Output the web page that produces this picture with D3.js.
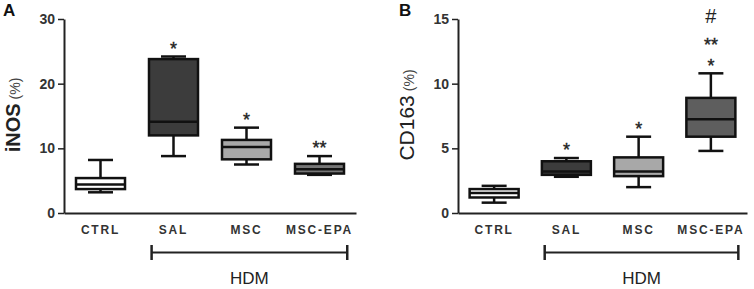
<!DOCTYPE html>
<html>
<head>
<meta charset="utf-8">
<script src="https://cdn.jsdelivr.net/npm/d3@7"></script>
<style>
  body { margin: 0; background: #fff; }
  text { font-family: "Liberation Sans", Arial, sans-serif; }
</style>
</head>
<body>
<div id="chart"></div>
<script>
// groups on the x axis
const groups = ["CTRL", "SAL", "MSC", "MSC-EPA"];
const hdmGroups = ["SAL", "MSC", "MSC-EPA"];

// panel A : iNOS (%)
const inosMin = [3.2, 8.8, 7.5, 5.9];
const inosQ1  = [3.7, 12.0, 8.3, 6.1];
const inosMed = [4.4, 14.1, 10.2, 6.75];
const inosQ3  = [5.4, 23.8, 11.3, 7.6];
const inosMax = [8.2, 24.2, 13.2, 8.8];
const inosMarks = [[], ["*"], ["*"], ["**"]];
const inosTicks = [0, 10, 20, 30];

// panel B : CD163 (%)
const cdMin = [0.8, 2.8, 2.0, 4.8];
const cdQ1  = [1.2, 2.95, 2.85, 5.9];
const cdMed = [1.55, 3.2, 3.2, 7.25];
const cdQ3  = [1.85, 4.0, 4.3, 8.9];
const cdMax = [2.1, 4.25, 5.9, 10.8];
const cdMarks = [[], ["*"], ["*"], ["*", "**", "#"]];
const cdTicks = [0, 5, 10, 15];

const W = 754, H = 289;
const svg = d3.select("#chart").append("svg")
  .attr("width", W).attr("height", H);

function drawPanel(opt) {
  const g = svg.append("g");
  const x = d3.scaleBand().domain(groups).range([opt.x0, opt.x1]);
  const y = d3.scaleLinear().domain([0, opt.ymax]).range([213, 19]);
  const bw = x.bandwidth();
  const boxW = 49, capW = 25;

  // y axis
  const ya = g.append("g").attr("transform", `translate(${opt.x0},0)`)
    .call(d3.axisLeft(y).tickValues(opt.ticks).tickSize(6).tickSizeOuter(0).tickPadding(3));
  ya.select(".domain").attr("stroke", "#222").attr("stroke-width", 2);
  ya.selectAll(".tick line").attr("stroke", "#222").attr("stroke-width", 1.5);
  ya.selectAll(".tick text").attr("font-size", 14).attr("font-weight", "bold")
    .attr("fill", "#333").style("font-family", "Liberation Sans, Arial, sans-serif");

  // x axis
  const xa = g.append("g").attr("transform", `translate(0,${y(0)})`)
    .call(d3.axisBottom(x).tickSize(0).tickPadding(12));
  xa.select(".domain").attr("stroke", "#222").attr("stroke-width", 2);
  xa.selectAll(".tick text").attr("font-size", 12).attr("font-weight", "bold")
    .attr("fill", "#333").attr("letter-spacing", 1.8)
    .style("font-family", "Liberation Sans, Arial, sans-serif");

  const rows = groups.map((k, i) => ({
    k, min: opt.min[i], q1: opt.q1[i], med: opt.med[i], q3: opt.q3[i], max: opt.max[i],
    fill: opt.fills[i], marks: opt.marks[i]
  }));

  const box = g.selectAll(".box").data(rows).join("g")
    .attr("transform", d => `translate(${x(d.k) + bw / 2},0)`);

  // whiskers
  box.append("line").attr("x1", 0).attr("x2", 0)
    .attr("y1", d => y(d.max)).attr("y2", d => y(d.min))
    .attr("stroke", "#111").attr("stroke-width", 2.5);
  box.append("line").attr("x1", -capW / 2).attr("x2", capW / 2)
    .attr("y1", d => y(d.max)).attr("y2", d => y(d.max))
    .attr("stroke", "#111").attr("stroke-width", 2.5);
  box.append("line").attr("x1", -capW / 2).attr("x2", capW / 2)
    .attr("y1", d => y(d.min)).attr("y2", d => y(d.min))
    .attr("stroke", "#111").attr("stroke-width", 2.5);

  // boxes
  box.append("rect").attr("x", -boxW / 2).attr("width", boxW)
    .attr("y", d => y(d.q3)).attr("height", d => y(d.q1) - y(d.q3))
    .attr("fill", d => d.fill).attr("stroke", "#111").attr("stroke-width", 2.5);
  box.append("line").attr("x1", -boxW / 2).attr("x2", boxW / 2)
    .attr("y1", d => y(d.med)).attr("y2", d => y(d.med))
    .attr("stroke", "#111").attr("stroke-width", 2.5);

  // significance marks, stacked above the whisker
  box.each(function (d) {
    d.marks.forEach((m, j) => {
      const isHash = m === "#";
      const fs = isHash ? 20 : 18;
      const cy = y(d.max) - 12 - j * 21 - (isHash ? 3 : 0);
      d3.select(this).append("text")
        .attr("x", 0).attr("y", isHash ? cy + 7 : cy + 0.575 * fs)
        .attr("text-anchor", "middle")
        .attr("font-size", fs).attr("fill", "#222")
        .attr("stroke", isHash ? "none" : "#222").attr("stroke-width", 0.4)
        .text(m);
    });
  });

  // HDM bracket
  const bx1 = x(hdmGroups[0]) + bw * 0.2;
  const bx2 = x(hdmGroups[hdmGroups.length - 1]) + bw * 0.88;
  g.append("line").attr("x1", bx1).attr("x2", bx2).attr("y1", 252.5).attr("y2", 252.5)
    .attr("stroke", "#222").attr("stroke-width", 2);
  [bx1, bx2].forEach(bx => g.append("line").attr("x1", bx).attr("x2", bx)
    .attr("y1", 245).attr("y2", 260).attr("stroke", "#222").attr("stroke-width", 2.5));
  g.append("text").attr("x", (bx1 + bx2) / 2).attr("y", 284)
    .attr("text-anchor", "middle").attr("font-size", 17).attr("fill", "#222")
    .text("HDM");

  // y label
  const yl = g.append("text")
    .attr("transform", `translate(${opt.labelX},115) rotate(-90)`)
    .attr("text-anchor", "middle").attr("fill", "#222");
  yl.append("tspan").attr("font-size", opt.labelSize).attr("font-weight", opt.labelBold ? "bold" : "normal")
    .text(opt.label);
  yl.append("tspan").attr("font-size", 14).attr("fill", "#444").attr("dx", 4).text("(%)");

  // panel letter
  g.append("text").attr("x", opt.letterX).attr("y", 16)
    .attr("font-size", 17).attr("font-weight", "bold").attr("fill", "#111")
    .text(opt.letter);
}

drawPanel({
  x0: 64, x1: 356, ymax: 30, ticks: inosTicks,
  min: inosMin, q1: inosQ1, med: inosMed, q3: inosQ3, max: inosMax, marks: inosMarks,
  fills: ["#ffffff", "#3c3c3c", "#a8a8a8", "#767676"],
  label: "iNOS", labelBold: true, labelSize: 20, labelX: 20, letter: "A", letterX: 3
});

drawPanel({
  x0: 458, x1: 747, ymax: 15, ticks: cdTicks,
  min: cdMin, q1: cdQ1, med: cdMed, q3: cdQ3, max: cdMax, marks: cdMarks,
  fills: ["#ffffff", "#3c3c3c", "#a8a8a8", "#5e5e5e"],
  label: "CD163", labelBold: false, labelSize: 21, labelX: 414, letter: "B", letterX: 399
});
</script>
</body>
</html>
